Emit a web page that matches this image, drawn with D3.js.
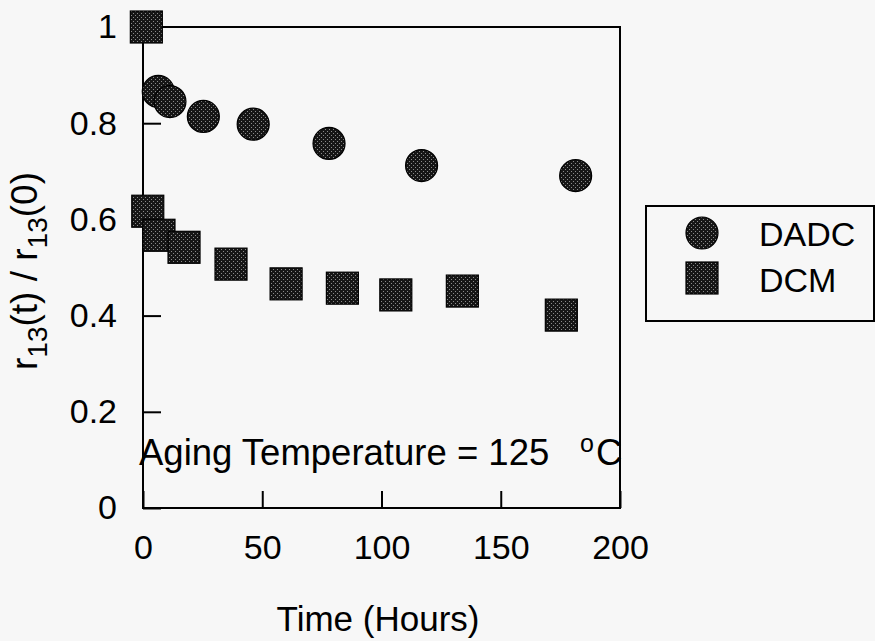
<!DOCTYPE html>
<html>
<head>
<meta charset="utf-8">
<script src="https://cdn.jsdelivr.net/npm/d3@7/dist/d3.min.js"></script>
<style>
  html, body { margin: 0; padding: 0; background: #f7f7f7; }
  svg { display: block; font-family: "Liberation Sans", Arial, sans-serif; }
</style>
</head>
<body>
<svg id="chart" width="875" height="641"></svg>
<script>
// ---- data ----
const dadcTime  = [6.4, 11.3, 25.3, 46.2, 78, 116.8, 181.4];
const dadcRatio = [0.866, 0.845, 0.814, 0.798, 0.758, 0.712, 0.691];
const dcmTime   = [1.4, 2.0, 6.7, 17.2, 36.9, 60.0, 83.6, 106, 133.9, 175.4];
const dcmRatio  = [1.0, 0.617, 0.567, 0.542, 0.507, 0.466, 0.457, 0.443, 0.451, 0.401];
const xTicks = [0, 50, 100, 150, 200];
const yTicks = [0, 0.2, 0.4, 0.6, 0.8, 1];
const yTickLabels = ["0", "0.2", "0.4", "0.6", "0.8", "1"];
const seriesNames = ["DADC", "DCM"];

const svg = d3.select("#chart");
const pL = 143, pR = 620, pT = 27, pB = 508;
const x = d3.scaleLinear().domain([0, 200]).range([pL, pR]);
const y = d3.scaleLinear().domain([0, 1]).range([pB, pT]);

// stipple pattern
const defs = svg.append("defs");
const pat = defs.append("pattern").attr("id", "stip").attr("patternUnits", "userSpaceOnUse")
  .attr("width", 4).attr("height", 4);
pat.append("rect").attr("width", 4).attr("height", 4).attr("fill", "#161616");
pat.append("rect").attr("x", 1).attr("y", 1).attr("width", 1).attr("height", 1).attr("fill", "#8a8a8a");
pat.append("rect").attr("x", 3).attr("y", 3).attr("width", 1).attr("height", 1).attr("fill", "#8a8a8a");

const fs = 34;

// axes
const xAxis = d3.axisBottom(x).tickValues(xTicks).tickSize(-17).tickPadding(27).tickFormat(d3.format("d"));
const gx = svg.append("g").attr("transform", `translate(0,${pB})`).call(xAxis);
const yAxis = d3.axisLeft(y).tickValues(yTicks).tickSize(-18).tickPadding(26)
  .tickFormat((d, i) => yTickLabels[i]);
const gy = svg.append("g").attr("transform", `translate(${pL},0)`).call(yAxis);
[gx, gy].forEach(g => {
  g.select(".domain").remove();
  g.selectAll(".tick line").attr("stroke", "#000").attr("stroke-width", 2);
  g.selectAll(".tick text").attr("fill", "#000").style("font-size", fs + "px")
    .style("font-family", "'Liberation Sans', Arial, sans-serif");
});

// frame
svg.append("rect").attr("x", pL).attr("y", pT).attr("width", pR - pL).attr("height", pB - pT)
  .attr("fill", "none").attr("stroke", "#000").attr("stroke-width", 2);

// annotation
const ann = svg.append("text").attr("x", 139).attr("y", 465).style("font-size", "36.5px").attr("fill", "#000");
ann.append("tspan").text("Aging Temperature = 125");
ann.append("tspan").attr("x", 580).attr("y", 452).style("font-size", "25px").text("o");
ann.append("tspan").attr("x", 596).attr("y", 465).text("C");

// DADC circles
svg.append("g").selectAll("circle").data(dadcTime).join("circle")
  .attr("cx", d => x(d)).attr("cy", (d, i) => y(dadcRatio[i])).attr("r", 16)
  .attr("fill", "url(#stip)").attr("stroke", "#000").attr("stroke-width", 1.2);

// DCM squares
const s = 32;
svg.append("g").selectAll("rect").data(dcmTime).join("rect")
  .attr("x", d => x(d) - s / 2).attr("y", (d, i) => y(dcmRatio[i]) - s / 2)
  .attr("width", s).attr("height", s)
  .attr("fill", "url(#stip)").attr("stroke", "#000").attr("stroke-width", 1.2);

// axis titles
svg.append("text").attr("x", 378).attr("y", 631).attr("text-anchor", "middle")
  .style("font-size", "35px").attr("fill", "#000").text("Time (Hours)");

const yt = svg.append("text").attr("transform", "translate(37,271) rotate(-90)")
  .attr("text-anchor", "middle").style("font-size", "37px").attr("fill", "#000");
yt.append("tspan").text("r");
yt.append("tspan").attr("dy", 10).style("font-size", "28px").text("13");
yt.append("tspan").attr("dy", -10).text("(t) / r");
yt.append("tspan").attr("dy", 10).style("font-size", "28px").text("13");
yt.append("tspan").attr("dy", -10).text("(0)");

// legend
const lg = svg.append("g");
lg.append("rect").attr("x", 646).attr("y", 206).attr("width", 228).attr("height", 115)
  .attr("fill", "none").attr("stroke", "#000").attr("stroke-width", 2);
lg.append("circle").attr("cx", 702).attr("cy", 233).attr("r", 16)
  .attr("fill", "url(#stip)").attr("stroke", "#000").attr("stroke-width", 1.2);
lg.append("rect").attr("x", 702 - s / 2).attr("y", 278 - s / 2).attr("width", s).attr("height", s)
  .attr("fill", "url(#stip)").attr("stroke", "#000").attr("stroke-width", 1.2);
lg.selectAll("text").data(seriesNames).join("text")
  .attr("x", 759).attr("y", (d, i) => 246 + i * 46)
  .style("font-size", "34px").attr("fill", "#000").text(d => d);
</script>
</body>
</html>
